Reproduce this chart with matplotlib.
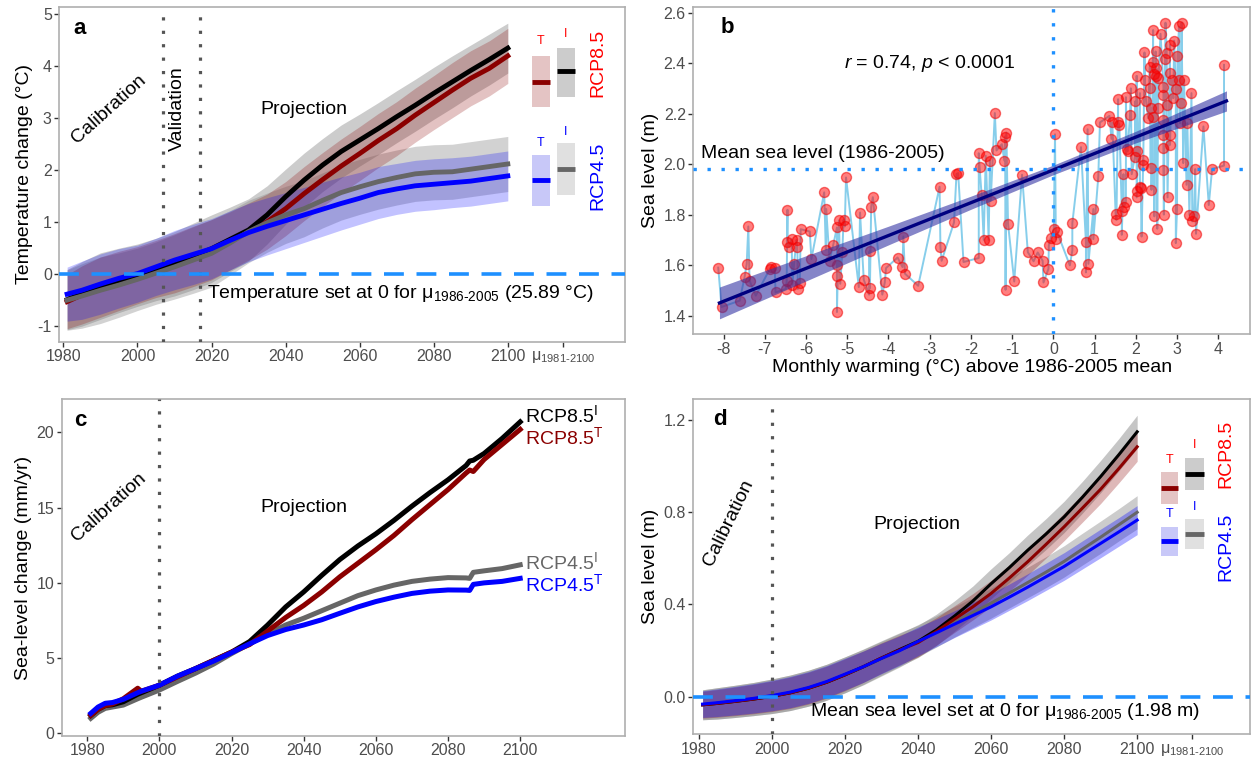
import numpy as np
import matplotlib
matplotlib.use("Agg")
import matplotlib.pyplot as plt
from matplotlib.patches import Rectangle

plt.rcParams['font.family'] = ['Liberation Sans', 'DejaVu Sans']
plt.rcParams['mathtext.fontset'] = 'custom'
plt.rcParams['mathtext.rm'] = 'Liberation Sans'
plt.rcParams['mathtext.it'] = 'Liberation Sans:italic'
plt.rcParams['mathtext.bf'] = 'Liberation Sans:bold'
plt.rcParams['axes.unicode_minus'] = False

# ---------------- data ----------------
years = [1981, 1985, 1990, 1995, 2000, 2005, 2010, 2015, 2020, 2025, 2030, 2035, 2040,
         2045, 2050, 2055, 2060, 2065, 2070, 2075, 2080, 2085, 2090, 2095, 2100]

# panel a: temperature change (deg C)
temp_T45 = [-0.385, -0.31, -0.19, -0.08, 0.01, 0.14, 0.27, 0.38, 0.49, 0.65, 0.80, 0.92, 1.03,
            1.14, 1.25, 1.36, 1.46, 1.57, 1.64, 1.70, 1.73, 1.76, 1.79, 1.84, 1.89]
temp_I45 = [-0.50, -0.42, -0.31, -0.21, -0.10, 0.02, 0.14, 0.27, 0.40, 0.60, 0.82, 0.99, 1.14,
            1.26, 1.42, 1.57, 1.68, 1.78, 1.86, 1.93, 1.96, 1.97, 2.02, 2.07, 2.12]
temp_I85 = [-0.49, -0.38, -0.23, -0.12, -0.02, 0.09, 0.20, 0.34, 0.49, 0.67, 0.85, 1.14, 1.49,
            1.81, 2.10, 2.36, 2.58, 2.80, 3.03, 3.25, 3.48, 3.70, 3.92, 4.13, 4.35]
temp_T85 = [-0.53, -0.40, -0.25, -0.13, -0.02, 0.10, 0.21, 0.34, 0.47, 0.64, 0.82, 1.01, 1.26,
            1.55, 1.82, 2.08, 2.32, 2.57, 2.80, 3.06, 3.30, 3.54, 3.77, 3.96, 4.20]
temp_hw_I85 = [0.58, 0.62, 0.64, 0.62, 0.60, 0.60, 0.62, 0.64, 0.65, 0.62, 0.60, 0.56, 0.53,
               0.52, 0.51, 0.51, 0.50, 0.50, 0.50, 0.50, 0.50, 0.50, 0.49, 0.49, 0.48]
temp_hw_T85 = [0.52, 0.56, 0.58, 0.57, 0.55, 0.55, 0.57, 0.58, 0.58, 0.56, 0.55, 0.53, 0.52,
               0.52, 0.52, 0.52, 0.52, 0.52, 0.52, 0.52, 0.52, 0.53, 0.53, 0.53, 0.53]
temp_hw_I45 = [0.58, 0.62, 0.64, 0.62, 0.60, 0.60, 0.62, 0.64, 0.65, 0.62, 0.60, 0.57, 0.55,
               0.54, 0.53, 0.53, 0.53, 0.53, 0.53, 0.53, 0.53, 0.53, 0.53, 0.53, 0.53]
temp_hw_T45 = [0.52, 0.56, 0.58, 0.57, 0.55, 0.55, 0.57, 0.58, 0.58, 0.57, 0.56, 0.55, 0.54,
               0.53, 0.52, 0.51, 0.50, 0.50, 0.49, 0.49, 0.49, 0.48, 0.48, 0.48, 0.48]
# summary boxes (T85, I85, T45, I45)
boxa_mean = [3.70, 3.90, 1.81, 2.02]
boxa_lo = [3.21, 3.41, 1.32, 1.52]
boxa_hi = [4.20, 4.36, 2.30, 2.52]

# panel b: monthly warming vs sea level
sl_pts = [
    (-8.13, 1.590), (-8.05, 1.434), (-7.61, 1.459), (-7.49, 1.553), (-7.44, 1.604), (-7.40, 1.753),
    (-7.37, 1.538), (-7.22, 1.479), (-6.88, 1.584), (-6.84, 1.591), (-6.76, 1.590), (-6.74, 1.492),
    (-6.49, 1.505), (-6.47, 1.535), (-6.45, 1.819), (-6.45, 1.692), (-6.41, 1.671), (-6.35, 1.703),
    (-6.33, 1.522), (-6.29, 1.606), (-6.23, 1.700), (-6.21, 1.671), (-6.20, 1.505), (-6.15, 1.529),
    (-6.13, 1.742), (-5.91, 1.733), (-5.87, 1.624), (-5.56, 1.888), (-5.52, 1.661), (-5.51, 1.822),
    (-5.43, 1.617), (-5.34, 1.680), (-5.25, 1.749), (-5.25, 1.601), (-5.25, 1.555), (-5.25, 1.414),
    (-5.20, 1.777), (-5.17, 1.526), (-5.12, 1.650), (-5.09, 1.779), (-5.06, 1.753), (-5.03, 1.947),
    (-4.72, 1.513), (-4.69, 1.808), (-4.60, 1.542), (-4.47, 1.483), (-4.46, 1.654), (-4.45, 1.509),
    (-4.42, 1.830), (-4.38, 1.869), (-4.15, 1.483), (-4.09, 1.531), (-4.06, 1.588), (-3.78, 1.630),
    (-3.66, 1.592), (-3.64, 1.713), (-3.60, 1.566), (-3.28, 1.518), (-2.76, 1.910), (-2.74, 1.671),
    (-2.71, 1.617), (-2.41, 1.769), (-2.35, 1.961), (-2.31, 1.964), (-2.18, 1.612), (-1.81, 1.628),
    (-1.81, 2.043), (-1.79, 1.988), (-1.74, 1.876), (-1.69, 1.700), (-1.64, 2.033), (-1.57, 1.700),
    (-1.54, 2.014), (-1.52, 1.855), (-1.42, 2.202), (-1.38, 2.054), (-1.25, 2.079), (-1.19, 2.014),
    (-1.17, 2.109), (-1.14, 2.125), (-1.16, 1.502), (-1.10, 1.764), (-0.95, 1.535), (-0.76, 1.958),
    (-0.62, 1.651), (-0.48, 1.615), (-0.38, 1.650), (-0.26, 1.617), (-0.24, 1.531), (-0.12, 1.585),
    (-0.11, 1.678), (-0.06, 1.709), (0.01, 1.742), (0.04, 2.118), (0.06, 1.703), (0.09, 1.731),
    (0.40, 1.599), (0.46, 1.658), (0.46, 1.766), (0.67, 2.067), (0.79, 1.690), (0.79, 1.571),
    (0.83, 2.138), (0.85, 1.605), (0.97, 1.822), (0.97, 1.703), (1.09, 1.951), (1.13, 2.165),
    (1.36, 2.191), (1.41, 2.100), (1.43, 2.165), (1.51, 1.803), (1.53, 1.779), (1.57, 2.257),
    (1.57, 2.168), (1.60, 2.155), (1.66, 1.816), (1.66, 1.720), (1.70, 1.960), (1.71, 1.832),
    (1.76, 1.848), (1.76, 2.265), (1.78, 2.059), (1.80, 2.050), (1.86, 2.195), (1.88, 2.300),
    (1.90, 1.960), (1.98, 2.030), (2.02, 2.050), (2.02, 2.349), (2.02, 1.892), (2.12, 1.905),
    (2.14, 1.713), (2.72, 2.560), (3.11, 2.560), (3.05, 2.545), (2.42, 2.531), (2.60, 2.516),
    (2.93, 2.489), (2.83, 2.472), (3.01, 2.429), (2.21, 2.442), (2.48, 2.446), (2.75, 2.439),
    (2.41, 2.406), (2.71, 2.415), (2.34, 2.386), (2.50, 2.380), (2.49, 2.349), (2.44, 2.355),
    (2.55, 2.340), (2.83, 2.360), (2.87, 2.334), (2.22, 2.334), (3.05, 2.334), (3.17, 2.334),
    (2.34, 2.300), (2.67, 2.307), (2.97, 2.298), (3.35, 2.281), (2.10, 2.281), (1.98, 2.248),
    (2.25, 2.248), (2.67, 2.274), (2.91, 2.261), (3.09, 2.241), (2.38, 2.222), (2.54, 2.222),
    (2.75, 2.235), (2.30, 2.182), (2.42, 2.188), (2.67, 2.175), (3.07, 2.162), (3.25, 2.162),
    (3.64, 2.149), (2.67, 2.116), (2.83, 2.116), (2.67, 2.063), (2.83, 2.076), (2.18, 2.017),
    (2.18, 1.997), (2.67, 1.977), (2.36, 1.984), (3.15, 2.004), (3.44, 1.980), (2.10, 1.908),
    (2.38, 1.898), (3.23, 1.918), (4.14, 1.994), (4.14, 2.393), (3.77, 1.838), (3.46, 1.724),
    (3.37, 1.773), (3.41, 1.793), (3.30, 1.799), (3.00, 1.822), (2.97, 1.687), (2.77, 1.868),
    (2.68, 1.800), (2.52, 1.744), (2.45, 1.793), (2.02, 1.868), (3.85, 1.980),
]
# fitted regression: x, fitted value, 95% CI half-width
reg_x = [-8.1, -6.0, -4.0, -2.0, 0.0, 2.0, 4.2]
reg_y = [1.450, 1.587, 1.717, 1.847, 1.977, 2.107, 2.250]
reg_hw = [0.063, 0.050, 0.037, 0.026, 0.019, 0.023, 0.040]

# panel c: sea-level change rate (mm/yr)
years_c = [1981, 1983, 1985, 1987, 1990, 1994, 1995, 2000, 2005, 2010, 2015, 2020, 2025, 2030, 2035,
           2040, 2045, 2050, 2055, 2060, 2065, 2070, 2075, 2080, 2085, 2086, 2087, 2090, 2095, 2100]
rate_T45 = [1.33, 1.75, 2.00, 2.05, 2.26, 2.70, 2.80, 3.20, 3.80, 4.30, 4.80, 5.36, 5.95, 6.50, 6.90,
            7.20, 7.55, 7.98, 8.40, 8.76, 9.05, 9.30, 9.45, 9.53, 9.52, 9.50, 9.90, 10.0, 10.1, 10.3]
rate_I45 = [1.00, 1.40, 1.66, 1.75, 1.88, 2.30, 2.40, 2.88, 3.45, 4.00, 4.60, 5.30, 5.95, 6.60, 7.20,
            7.65, 8.15, 8.65, 9.15, 9.53, 9.85, 10.1, 10.25, 10.35, 10.33, 10.3, 10.7, 10.8, 10.95, 11.2]
rate_I85 = [1.20, 1.60, 1.85, 1.90, 2.10, 2.60, 2.70, 3.20, 3.80, 4.30, 4.85, 5.40, 6.10, 7.20, 8.40,
            9.40, 10.5, 11.55, 12.45, 13.26, 14.15, 15.1, 16.0, 16.85, 17.8, 18.1, 18.15, 18.6, 19.6, 20.7]
rate_T85 = [1.20, 1.60, 1.85, 1.95, 2.30, 3.00, 2.80, 3.20, 3.75, 4.30, 4.85, 5.40, 5.90, 6.80, 7.70,
            8.50, 9.40, 10.4, 11.3, 12.2, 13.15, 14.2, 15.2, 16.2, 17.3, 17.5, 17.4, 18.2, 19.2, 20.2]

# panel d: sea level (m)
sea_T45 = [-0.032, -0.026, -0.017, -0.007, 0.005, 0.020, 0.040, 0.066, 0.098, 0.130, 0.166, 0.200, 0.240,
           0.277, 0.315, 0.352, 0.390, 0.432, 0.475, 0.520, 0.565, 0.615, 0.665, 0.715, 0.766]
sea_I45 = [-0.035, -0.029, -0.020, -0.010, 0.002, 0.017, 0.037, 0.063, 0.095, 0.128, 0.165, 0.202, 0.243,
           0.283, 0.325, 0.365, 0.406, 0.450, 0.495, 0.540, 0.587, 0.640, 0.692, 0.746, 0.800]
sea_I85 = [-0.035, -0.029, -0.020, -0.010, 0.002, 0.017, 0.037, 0.063, 0.095, 0.130, 0.168, 0.205, 0.240,
           0.290, 0.350, 0.415, 0.490, 0.560, 0.635, 0.705, 0.780, 0.865, 0.955, 1.050, 1.149]
sea_T85 = [-0.035, -0.029, -0.020, -0.010, 0.002, 0.017, 0.037, 0.063, 0.095, 0.130, 0.168, 0.203, 0.235,
           0.283, 0.337, 0.390, 0.448, 0.515, 0.585, 0.660, 0.737, 0.818, 0.900, 0.990, 1.084]
sea_hw_I = [0.065, 0.068, 0.070, 0.072, 0.075, 0.077, 0.078, 0.078, 0.078, 0.077, 0.075, 0.073, 0.070,
            0.068, 0.066, 0.065, 0.065, 0.065, 0.066, 0.067, 0.068, 0.069, 0.070, 0.070, 0.072]
sea_hw_T = [0.058, 0.060, 0.062, 0.064, 0.066, 0.068, 0.069, 0.069, 0.069, 0.068, 0.066, 0.064, 0.062,
            0.060, 0.058, 0.057, 0.057, 0.057, 0.058, 0.059, 0.060, 0.061, 0.062, 0.062, 0.063]
boxd_mean = [0.906, 0.966, 0.675, 0.704]
boxd_lo = [0.835, 0.896, 0.611, 0.639]
boxd_hi = [0.976, 1.037, 0.737, 0.769]

tick_years = [1980, 2000, 2020, 2040, 2060, 2080, 2100]
mu_label = r'μ$_{\mathrm{1981}\text{-}\mathrm{2100}}$'

# ---------------- styles ----------------
C_T85 = '#8B0000'
C_I85 = 'black'
C_I45 = '#666666'
C_T45 = '#0000FF'
DODGER = '#1E90FF'
TICKC = '#4D4D4D'
FS_TICK = 11.5
FS_LAB = 14

fig = plt.figure(figsize=(12.57, 7.61), dpi=100)
axa = fig.add_axes([0.04726, 0.55099, 0.45012, 0.43942])
axb = fig.add_axes([0.55171, 0.56110, 0.44272, 0.42931])
axc = fig.add_axes([0.04916, 0.03325, 0.44821, 0.44205])
axd = fig.add_axes([0.55171, 0.03509, 0.44272, 0.44021])


def style(ax):
    for s in ax.spines.values():
        s.set_color('#AFAFAF')
        s.set_linewidth(1.2)
    ax.tick_params(direction='out', length=3.5, width=1.0, color='#333333',
                   labelcolor=TICKC, labelsize=FS_TICK, pad=2)


def vdot(ax, x, color='#555555'):
    ax.axvline(x, color=color, lw=2.3, ls=(0, (1, 3.2)), zorder=4)


def boxes(ax, means, los, his, tlab_y, ilab_y, rcp85_y, rcp45_y):
    xs = [(2106.4, 2111.3), (2113.2, 2118.2), (2106.4, 2111.3), (2113.2, 2118.2)]
    fills = ['#E4C4C4', '#CCCCCC', '#C8C8F8', '#E0E0E0']
    lines = [C_T85, C_I85, C_T45, C_I45]
    for (x0, x1), m, lo, hi, f, lc in zip(xs, means, los, his, fills, lines):
        ax.add_patch(Rectangle((x0, lo), x1 - x0, hi - lo, facecolor=f, edgecolor='none',
                               zorder=3, clip_on=False))
        ax.plot([x0, x1], [m, m], color=lc, lw=3.5, solid_capstyle='butt', zorder=4)
    ax.text(2108.85, tlab_y[0], 'T', color='red', fontsize=9, ha='center', va='center')
    ax.text(2115.7, ilab_y[0], 'I', color='red', fontsize=9, ha='center', va='center')
    ax.text(2108.85, tlab_y[1], 'T', color='blue', fontsize=9, ha='center', va='center')
    ax.text(2115.7, ilab_y[1], 'I', color='blue', fontsize=9, ha='center', va='center')
    ax.text(2124.2, rcp85_y, 'RCP8.5', color='red', fontsize=FS_LAB, rotation=90,
            ha='center', va='center')
    ax.text(2124.2, rcp45_y, 'RCP4.5', color='blue', fontsize=FS_LAB, rotation=90,
            ha='center', va='center')


yr = np.array(years, dtype=float)

# ---------------- panel a ----------------
ax = axa
style(ax)
for m, hw, c, a in [(temp_I85, temp_hw_I85, '#808080', 0.40), (temp_I45, temp_hw_I45, '#808080', 0.35),
                    (temp_T85, temp_hw_T85, '#8B0000', 0.24), (temp_T45, temp_hw_T45, '#0000FF', 0.24)]:
    m = np.array(m); hw = np.array(hw)
    ax.fill_between(yr, m - hw, m + hw, color=c, alpha=a, lw=0, zorder=1)
for m, c in [(temp_T85, C_T85), (temp_I85, C_I85), (temp_I45, C_I45), (temp_T45, C_T45)]:
    ax.plot(yr, m, color=c, lw=3.5, zorder=3)
ax.axhline(0, color=DODGER, lw=2.6, ls=(0, (5.5, 3.5)), zorder=5)
vdot(ax, 2007)
vdot(ax, 2017)
boxes(ax, boxa_mean, boxa_lo, boxa_hi, (4.49, 2.53), (4.63, 2.74), 4.07, 1.90)
ax.set_xlim(1978.92, 2131.7)
ax.set_ylim(-1.3, 5.135)
ax.set_xticks(tick_years + [2115])
ax.set_xticklabels([str(t) for t in tick_years] + [mu_label])
ax.set_yticks([-1, 0, 1, 2, 3, 4, 5])
ax.set_ylabel('Temperature change (°C)', fontsize=FS_LAB, labelpad=3)
ax.text(1984.4, 4.73, 'a', fontsize=16, fontweight='bold', ha='center', va='center')
ax.text(1992.3, 3.17, 'Calibration', fontsize=FS_LAB, rotation=42, ha='center', va='center')
ax.text(2010.8, 3.19, 'Validation', fontsize=FS_LAB, rotation=90, ha='center', va='center')
ax.text(2044.85, 3.17, 'Projection', fontsize=FS_LAB, ha='center', va='center')
ax.text(2018.7, -0.37, r'Temperature set at 0 for μ$_{\mathrm{1986}\text{-}\mathrm{2005}}$ (25.89 °C)',
        fontsize=FS_LAB, ha='left', va='center')

# ---------------- panel b ----------------
ax = axb
style(ax)
bx = np.array([p[0] for p in sl_pts])
by = np.array([p[1] for p in sl_pts])
order = np.argsort(bx, kind='stable')
ax.plot(bx[order], by[order], color='#87CEEB', lw=1.4, zorder=2)
ax.plot(bx, by, 'o', ms=7.2, mfc=(1, 0, 0, 0.5), mec=(0.95, 0, 0, 0.55), mew=1.0, ls='none', zorder=3)
rx = np.array(reg_x); ry = np.array(reg_y); rh = np.array(reg_hw)
ax.fill_between(rx, ry - rh, ry + rh, color='#3434A4', alpha=0.6, lw=0, zorder=4)
ax.plot(rx, ry, color='#000080', lw=2.4, zorder=5)
ax.axhline(1.98, color=DODGER, lw=2.4, ls=(0, (1, 3.2)), zorder=6)
ax.axvline(0, color=DODGER, lw=2.4, ls=(0, (1, 3.2)), zorder=6)
ax.set_xlim(-8.73, 4.77)
ax.set_ylim(1.327, 2.621)
ax.set_xticks(range(-8, 5))
ax.set_xticklabels([str(v) for v in range(-8, 5)])
ax.set_yticks([1.4, 1.6, 1.8, 2.0, 2.2, 2.4, 2.6])
ax.set_yticklabels(['1.4', '1.6', '1.8', '2.0', '2.2', '2.4', '2.6'])
ax.set_ylabel('Sea level (m)', fontsize=FS_LAB, labelpad=3)
ax.set_xlabel('Monthly warming (°C) above 1986-2005 mean', fontsize=FS_LAB, labelpad=2)
ax.text(-7.9, 2.542, 'b', fontsize=16, fontweight='bold', ha='center', va='center')
ax.text(-3.01, 2.40, r'$r$ = 0.74, $p$ < 0.0001', fontsize=FS_LAB, ha='center', va='center')
ax.text(-8.54, 2.043, 'Mean sea level (1986-2005)', fontsize=FS_LAB, ha='left', va='center')

# ---------------- panel c ----------------
ax = axc
style(ax)
yc = np.array(years_c, dtype=float)
for m, c in [(rate_I45, C_I45), (rate_I85, C_I85), (rate_T85, C_T85), (rate_T45, C_T45)]:
    ax.plot(yc, m, color=c, lw=3.6, zorder=3)
vdot(ax, 2000)
ax.set_xlim(1972.96, 2129.1)
ax.set_ylim(-0.155, 22.2)
ax.set_xticks(tick_years)
ax.set_xticklabels([str(t) for t in tick_years])
ax.set_yticks([0, 5, 10, 15, 20])
ax.set_ylabel('Sea-level change (mm/yr)', fontsize=FS_LAB, labelpad=3)
ax.text(1978.2, 20.8, 'c', fontsize=16, fontweight='bold', ha='center', va='center')
ax.text(1986.0, 15.0, 'Calibration', fontsize=FS_LAB, rotation=42, ha='center', va='center')
ax.text(2040.0, 15.0, 'Projection', fontsize=FS_LAB, ha='center', va='center')
ax.text(2101.3, 21.17, r'RCP8.5$^{\mathrm{I}}$', color=C_I85, fontsize=FS_LAB, ha='left', va='center')
ax.text(2101.3, 19.69, r'RCP8.5$^{\mathrm{T}}$', color=C_T85, fontsize=FS_LAB, ha='left', va='center')
ax.text(2101.3, 11.35, r'RCP4.5$^{\mathrm{I}}$', color=C_I45, fontsize=FS_LAB, ha='left', va='center')
ax.text(2101.3, 9.93, r'RCP4.5$^{\mathrm{T}}$', color=C_T45, fontsize=FS_LAB, ha='left', va='center')

# ---------------- panel d ----------------
ax = axd
style(ax)
for m, hw, c, a in [(sea_I85, sea_hw_I, '#808080', 0.45), (sea_I45, sea_hw_I, '#808080', 0.40),
                    (sea_T85, sea_hw_T, '#8B0000', 0.28), (sea_T45, sea_hw_T, '#0000FF', 0.32)]:
    m = np.array(m); hw = np.array(hw)
    ax.fill_between(yr, m - hw, m + hw, color=c, alpha=a, lw=0, zorder=1)
for m, c in [(sea_I45, C_I45), (sea_I85, C_I85), (sea_T85, C_T85), (sea_T45, C_T45)]:
    ax.plot(yr, m, color=c, lw=2.2, zorder=3)
ax.axhline(0, color=DODGER, lw=2.6, ls=(0, (5.5, 3.5)), zorder=5)
vdot(ax, 2000)
boxes(ax, boxd_mean, boxd_lo, boxd_hi, (1.027, 0.791), (1.092, 0.824), 1.055, 0.65)
ax.set_xlim(1978.5, 2130.9)
ax.set_ylim(-0.163, 1.29)
ax.set_xticks(tick_years + [2115])
ax.set_xticklabels([str(t) for t in tick_years] + [mu_label])
ax.set_yticks([0.0, 0.4, 0.8, 1.2])
ax.set_yticklabels(['0.0', '0.4', '0.8', '1.2'])
ax.set_ylabel('Sea level (m)', fontsize=FS_LAB, labelpad=3)
ax.text(1985.8, 1.203, 'd', fontsize=16, fontweight='bold', ha='center', va='center')
ax.text(1988.0, 0.752, 'Calibration', fontsize=FS_LAB, rotation=64, ha='center', va='center')
ax.text(2039.8, 0.745, 'Projection', fontsize=FS_LAB, ha='center', va='center')
ax.text(2010.3, -0.065, r'Mean sea level set at 0 for μ$_{\mathrm{1986}\text{-}\mathrm{2005}}$ (1.98 m)',
        fontsize=FS_LAB, ha='left', va='center')

fig.savefig('out.png', dpi=100)
